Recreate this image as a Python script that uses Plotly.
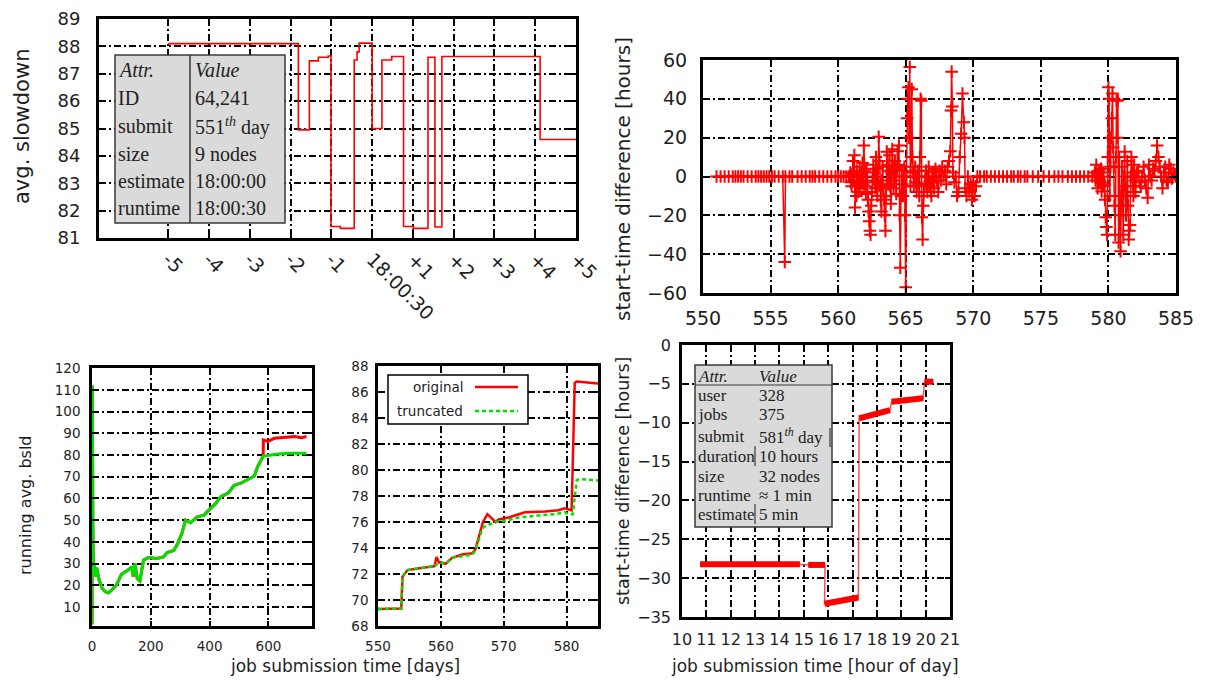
import plotly.graph_objects as go

# Page is shown with the browser's default 8px body margin, so the figure is
# sized to fit inside the 1208x680 window and laid out in window pixels.
WIN_W, WIN_H, OFF = 1208, 680, 8
W, H = WIN_W - OFF, WIN_H - OFF

# ---------------- data ----------------
# Panel 1: avg. slowdown around job 64,241 (step line)
p1_x = [-5, -1.81, -1.54, -1.32, -1.08, -1.01, -0.78, -0.44, -0.37, -0.32, 0.0,
        0.24, 0.48, 0.77, 1.01, 1.37, 1.54, 1.71, 4.12, 5.0]
p1_y = [88.1, 84.95, 87.47, 87.6, 87.65, 81.42, 81.35, 87.5, 87.8, 88.12, 85.0,
        87.5, 87.63, 81.42, 81.35, 87.6, 81.4, 87.63, 84.6, 84.6]
p1_tickvals = [-5, -4, -3, -2, -1, 0, 1, 2, 3, 4, 5]
p1_ticktext = ["-5", "-4", "-3", "-2", "-1", "18:00:30", "+1", "+2", "+3", "+4", "+5"]
p1_table_attr = ["<i>Attr.</i>", "ID", "submit", "size", "estimate", "runtime"]
p1_table_val = ["<i>Value</i>", "64,241", "551<sup><i>th</i></sup> day", "9 nodes",
                "18:00:00", "18:00:30"]

# Panel 2: start-time difference [hours] vs day  (x = day, y = hours)
p2_x = [551.0, 551.3, 551.6, 551.9, 552.2, 552.4, 552.6, 552.8, 553.0, 553.3, 553.6,
        553.9, 554.1, 554.3, 554.5, 554.7, 554.9, 555.1, 555.3, 555.6, 555.9, 556.05,
        556.1, 556.4, 556.6, 557.0, 557.3, 557.6, 557.9, 558.1, 558.3, 558.6, 558.9,
        559.2, 559.5, 559.8, 560.0, 560.2, 560.4, 560.6, 560.8,
        560.85, 560.9, 560.95, 561.0, 561.05, 561.1, 561.15, 561.2, 561.25, 561.3,
        561.35, 561.4, 561.45, 561.5, 561.55, 561.6, 561.65, 561.7, 561.75, 561.8,
        561.85, 561.9, 561.95, 562.0, 562.05, 562.1, 562.15, 562.2, 562.25, 562.3,
        562.35, 562.4, 562.45, 562.5, 562.55, 562.6, 562.65, 562.7, 562.75, 562.8,
        562.85, 562.9, 562.95, 563.0, 563.05, 563.1, 563.15, 563.2, 563.25, 563.3,
        563.35, 563.4, 563.45, 563.5, 563.55, 563.6, 563.65, 563.7, 563.75, 563.8,
        563.85, 563.9, 563.95, 564.0, 564.05, 564.1, 564.15, 564.2, 564.25, 564.3,
        564.35, 564.4, 564.45, 564.5, 564.55, 564.6, 564.65, 564.7, 564.75, 564.8,
        564.85, 564.9, 564.95, 565.0, 565.05, 565.1, 565.15, 565.2, 565.25, 565.3,
        565.35, 565.4, 565.45, 565.5, 565.55, 565.6, 565.65, 565.7, 565.75, 565.8,
        565.85, 565.9, 565.95, 566.0, 566.05, 566.1, 566.15, 566.2, 566.25, 566.3,
        566.35, 566.4, 566.45, 566.5, 566.55, 566.6, 566.65, 566.7, 566.75, 566.8,
        566.85, 566.9, 566.95, 567.0, 567.05, 567.1, 567.15, 567.2, 567.3, 567.4,
        567.5, 567.6, 567.7, 567.8, 567.9, 568.0, 568.1, 568.2, 568.3, 568.35,
        568.4, 568.45, 568.5, 568.6, 568.7, 568.8, 568.9, 569.0, 569.1, 569.2,
        569.3, 569.35, 569.4, 569.5, 569.6, 569.7, 569.8, 569.9, 570.0, 570.1,
        570.2, 570.3,
        570.5, 570.8, 571.0, 571.3, 571.6, 571.9, 572.2, 572.5, 572.8, 573.0, 573.3,
        573.5, 573.8, 574.0, 574.4, 574.8, 575.2, 575.6, 576.0, 576.3, 576.6, 577.0,
        577.3, 577.6, 577.9, 578.2, 578.5, 578.8,
        579.0, 579.05, 579.1, 579.15, 579.2, 579.25, 579.3, 579.35, 579.4, 579.45,
        579.5, 579.55, 579.6, 579.65, 579.7, 579.75, 579.8, 579.85, 579.9, 579.95,
        580.0, 580.05, 580.1, 580.15, 580.2, 580.25, 580.3, 580.35, 580.4, 580.45,
        580.5, 580.55, 580.6, 580.65, 580.7, 580.75, 580.8, 580.85, 580.9, 580.95,
        581.0, 581.05, 581.1, 581.15, 581.2, 581.25, 581.3, 581.35, 581.4, 581.45,
        581.5, 581.55, 581.6, 581.65, 581.7, 581.75, 581.8, 581.85, 581.9, 581.95,
        582.0, 582.1, 582.2, 582.3, 582.4, 582.5, 582.6, 582.7, 582.8, 582.9,
        583.0, 583.1, 583.2, 583.3, 583.4, 583.5, 583.6, 583.7, 583.8, 583.9,
        584.0, 584.1, 584.2, 584.3, 584.4, 584.5, 584.6, 584.7, 584.8, 584.9, 585.0]
p2_y = [0, 0, 0, 0, 0, 0, 0, 0, 0, 0, 0,
        0, 0, 0, 0, 0, 0, 0, 0, 0, 0, -44,
        0, 0, 0, 0, 0, 0, 0, 0, 0, 0, 0,
        0, 0, 0, 0, 0, 0, 0, 0,
        0, 2, -3, -5, 1, 8, -2, 11, -16, -5,
        -10, 3, -3, -8, 0, 5, -6, -3, 2, 7,
        -4, 16, 3, -5, -9, 4, -2, -12, -18, -23,
        -28, -30, -15, -8, 0, 6, 2, -3, -6, 10,
        4, -10, -4, 20.5, 8, -5, -12, -18, -2, 5,
        -6, -12, -20, -28, -10, 12.8, 6, -4, 3, 11,
        -5, -14, 2, 14, 5, -6, -2, 8, 0, -9,
        4, 13, 6, 16, -20, -47, -10, 3, -4, -10,
        0, 5, -20, -57, 0, 30, 40, 46, 20, 56.4,
        -5, 10, 45, 10, 2, -5, 3, 5, -3, -8,
        0, 3, -4, -10, 10, 40, 39, -21, -32.5, -15,
        -8, -5, 0, 3, -4, -8, 0, 5, -5, -3,
        -8, -10, -2, 2, -3, -6, 0, 4, -2, -8,
        3, -2, 5, 0, 3, -4, 5, 8, 13, 34,
        54, 36, 2, -3, 0, -10, -8, 10, 22, 42.7,
        28, 20, -6, -10, 0, -8, -4, -12, -3, -10,
        -5, 0,
        0, 0, 0, 0, 0, 0, 0, 0, 0, 0, 0,
        0, 0, 0, 0, 0, 0, 0, 0, 0, 0, 0,
        0, 0, 0, 0, 0, 0,
        2, -2, 6, 0, -6, 1, 3, -2, -3, 4,
        -7.7, 0, 2, -5, -4, -12, -21, -26, -30, 10,
        46, 40, -10, 5, 20, 30, 42.7, 15, 5, -15,
        -30, 10, 39, 20, 39.3, -34, 10, -20, -38.5, -10,
        5, -15, -30, 0, 12.8, -5, -20, -8, 8, -15,
        -32.5, -28, -25, 0, 10, 2, -5, -10, 6, -2,
        -8, 2, 3, -3, -5, 0, 5, -2, -6, -11,
        6, 0, -2, 4, 3, 8, 16, 10, 5, 0,
        -6, 2, 5, -2, -3, 6, 4, -1, 2, 1, 0]

# Panel 3: running avg. bsld vs job submission time [days]
p3_orig_x = [0, 1, 3, 5, 8, 12, 16, 25, 35, 45, 55, 65, 83, 100, 123, 135, 140, 146,
             154, 163, 175, 192, 220, 243, 255, 278, 289, 306, 318, 335, 358, 381, 403,
             421, 438, 461, 472, 483, 506, 529, 552, 563, 575, 582, 582.5, 598, 620,
             655, 689, 712, 729]
p3_orig_y = [2, 112, 45, 25, 30, 24, 28, 22, 18.5, 17, 16.5, 17.5, 20, 25, 27, 28.5, 24,
             30, 23, 22, 31.5, 32.8, 32.3, 33, 35, 36, 38.5, 44, 50, 48.8, 51.5, 52.3,
             55.4, 57.7, 60.8, 62.3, 64, 66, 67, 68.5, 70.3, 74.6, 77.7, 79.5, 86.9,
             86.3, 87.7, 88, 88.5, 88, 88.5]
p3_trunc_x = [0, 1, 3, 5, 8, 12, 16, 25, 35, 45, 55, 65, 83, 100, 123, 135, 140, 146,
              154, 163, 175, 192, 220, 243, 255, 278, 289, 306, 318, 335, 358, 381, 403,
              421, 438, 461, 472, 483, 506, 529, 552, 563, 575, 582, 598, 632, 666, 729]
p3_trunc_y = [2, 112, 45, 25, 30, 24, 28, 22, 18.5, 17, 16.5, 17.5, 20, 25, 27, 28.5, 24,
              30, 23, 22, 31.5, 32.8, 32.3, 33, 35, 36, 38.5, 44, 50, 48.8, 51.5, 52.3,
              55.4, 57.7, 60.8, 62.3, 64, 66, 67, 68.5, 70.3, 74.6, 77.7, 79.5, 79.8,
              80.5, 80.8, 80.8]

# Panel 4: zoom 550-585 days
p4_orig_x = [550, 553.7, 553.9, 554.7, 556.6, 559.0, 559.3, 559.7, 560.8, 561.8, 563.4,
             565.0, 565.5, 566.1, 566.3, 566.7, 567.4, 568.7, 569.2, 570.8, 572.4, 573.4,
             576.6, 578.7, 579.7, 580.8, 581.3, 581.6, 585]
p4_orig_y = [69.3, 69.35, 71.8, 72.3, 72.45, 72.6, 73.3, 72.9, 72.8, 73.25, 73.5,
             73.6, 73.9, 74.9, 75.2, 76.0, 76.6, 76.0, 76.2, 76.35, 76.6, 76.75,
             76.8, 76.9, 77.05, 76.9, 86.7, 86.8, 86.65]
p4_trunc_x = [550, 553.7, 553.9, 554.7, 556.6, 559.0, 559.7, 560.8, 561.8, 563.4,
              565.0, 565.5, 566.1, 566.6, 567.1, 568.7, 570.3, 572.4, 575.5, 578.2,
              579.7, 580.3, 581.0, 581.6, 582.0, 585]
p4_trunc_y = [69.3, 69.35, 71.8, 72.3, 72.45, 72.6, 72.9, 72.8, 73.25, 73.4,
              73.5, 73.8, 74.8, 75.5, 75.7, 76.0, 76.1, 76.35, 76.5, 76.6,
              76.75, 76.6, 76.6, 79.2, 79.3, 79.2]
p4_legend = ["original", "truncated"]

# Panel 5: start-time difference [hours] vs hour of day (user 328)
p5_x = [10.74, 14.84, 15.18, 15.87, 15.85, 17.24, 17.27, 18.54, 18.6, 19.9, 19.95, 20.32]
p5_y = [-28.2, -28.2, -28.3, -28.3, -33.3, -32.5, -9.44, -8.37, -7.3, -6.86, -4.72, -4.72]
p5_segments = [(0, 1), (2, 3), (4, 5), (6, 7), (8, 9), (10, 11)]
p5_table_attr = ["<i>Attr.</i>", "user", "jobs", "submit", "duration", "size",
                 "runtime", "estimate"]
p5_table_val = ["<i>Value</i>", "328", "375", "581<sup><i>th</i></sup> day", "10 hours",
                "32 nodes", "≈ 1 min", "5 min"]


# ---------------- helpers (window pixel -> paper fraction) ----------------
def fx(px):
    return (px - OFF) / W


def fy(py):
    return 1 - (py - OFF) / H


RED = "#ff0000"
GREEN = "#00e000"
SANS = "DejaVu Sans"
SERIF = "Liberation Serif"
TXT = "#1e1e1e"
GRIDDASH = "7px,3px,2px,3px"


def axis(domain, rng, anchor, size, lw=3, ticklen=7, standoff=4, **kw):
    d = dict(domain=domain, range=rng, anchor=anchor, showline=True, linecolor="black",
             linewidth=lw, mirror="ticks", ticks="inside", ticklen=ticklen,
             tickwidth=2, tickcolor="black", showgrid=True, gridcolor="black",
             gridwidth=1.6, griddash=GRIDDASH, zeroline=False, automargin=False,
             ticklabeloverflow="allow",
             tickfont=dict(family=SANS, size=size, color=TXT),
             ticklabelstandoff=standoff)
    d.update(kw)
    return d


fig = go.Figure()

# Panel 1
fig.add_trace(go.Scatter(x=p1_x, y=p1_y, mode="lines", xaxis="x", yaxis="y",
                         line=dict(shape="hv", color=RED, width=1.6)))
# Panel 2
fig.add_trace(go.Scatter(x=p2_x, y=p2_y, mode="lines+markers", xaxis="x2", yaxis="y2",
                         line=dict(color=RED, width=1.5),
                         marker=dict(symbol="cross-thin", size=9,
                                     line=dict(color=RED, width=2))))
# Panel 3
fig.add_trace(go.Scatter(x=p3_orig_x, y=p3_orig_y, mode="lines", xaxis="x3", yaxis="y3",
                         line=dict(color=RED, width=3)))
fig.add_trace(go.Scatter(x=p3_trunc_x, y=p3_trunc_y, mode="lines", xaxis="x3", yaxis="y3",
                         line=dict(color=GREEN, width=3)))
# Panel 4
fig.add_trace(go.Scatter(x=p4_orig_x, y=p4_orig_y, mode="lines", xaxis="x4", yaxis="y4",
                         line=dict(color=RED, width=2.5)))
fig.add_trace(go.Scatter(x=p4_trunc_x, y=p4_trunc_y, mode="lines", xaxis="x4", yaxis="y4",
                         line=dict(color=GREEN, width=2.5, dash="4px,3px")))
# Panel 5: thin connecting line + thick segments
fig.add_trace(go.Scatter(x=p5_x, y=p5_y, mode="lines", xaxis="x5", yaxis="y5",
                         line=dict(color="rgba(255,0,0,0.7)", width=1.5)))
seg_x, seg_y = [], []
for a, b in p5_segments:
    seg_x += [p5_x[a], p5_x[b], None]
    seg_y += [p5_y[a], p5_y[b], None]
fig.add_trace(go.Scatter(x=seg_x, y=seg_y, mode="lines", xaxis="x5", yaxis="y5",
                         line=dict(color=RED, width=6)))

shapes = []
annotations = []

# Panel 1 table
shapes.append(dict(type="rect", xref="paper", yref="paper", x0=fx(115), x1=fx(285),
                   y0=fy(223), y1=fy(55), fillcolor="#dadada",
                   line=dict(color="#3a3a3a", width=1.5), layer="above"))
shapes.append(dict(type="line", xref="paper", yref="paper", x0=fx(190), x1=fx(190),
                   y0=fy(223), y1=fy(55), line=dict(color="#3a3a3a", width=1.5)))
p1_rows = [70, 98, 126, 154, 181, 208]
for a, v, r in zip(p1_table_attr, p1_table_val, p1_rows):
    annotations.append(dict(text=a, x=fx(116), y=fy(r), xref="paper", yref="paper",
                            xanchor="left", yanchor="middle", showarrow=False,
                            font=dict(family=SERIF, size=20, color="#222")))
    annotations.append(dict(text=v, x=fx(193), y=fy(r), xref="paper", yref="paper",
                            xanchor="left", yanchor="middle", showarrow=False,
                            font=dict(family=SERIF, size=20, color="#222")))

# Panel 5 table
shapes.append(dict(type="rect", xref="paper", yref="paper", x0=fx(695), x1=fx(832),
                   y0=fy(527), y1=fy(365), fillcolor="#dadada",
                   line=dict(color="#3a3a3a", width=1.5), layer="above"))
shapes.append(dict(type="line", xref="paper", yref="paper", x0=fx(695), x1=fx(832),
                   y0=fy(385), y1=fy(385), line=dict(color="#3a3a3a", width=1.2)))
for y0, y1 in [(446, 466), (504, 524)]:
    shapes.append(dict(type="line", xref="paper", yref="paper", x0=fx(755), x1=fx(755),
                       y0=fy(y1), y1=fy(y0), line=dict(color="#3a3a3a", width=1.2)))
shapes.append(dict(type="line", xref="paper", yref="paper", x0=fx(830), x1=fx(830),
                   y0=fy(447), y1=fy(428), line=dict(color="#3a3a3a", width=1.2)))
p5_rows = [376, 396, 414, 436, 456, 476, 495, 514]
for a, v, r in zip(p5_table_attr, p5_table_val, p5_rows):
    annotations.append(dict(text=a, x=fx(696), y=fy(r), xref="paper", yref="paper",
                            xanchor="left", yanchor="middle", showarrow=False,
                            font=dict(family=SERIF, size=17, color="#222")))
    annotations.append(dict(text=v, x=fx(757), y=fy(r), xref="paper", yref="paper",
                            xanchor="left", yanchor="middle", showarrow=False,
                            font=dict(family=SERIF, size=17, color="#222")))

# Panel 4 legend
shapes.append(dict(type="rect", xref="paper", yref="paper", x0=fx(388), x1=fx(528),
                   y0=fy(424), y1=fy(375), fillcolor="white",
                   line=dict(color="black", width=1.5), layer="above"))
shapes.append(dict(type="line", xref="paper", yref="paper", x0=fx(475), x1=fx(518),
                   y0=fy(387), y1=fy(387), line=dict(color=RED, width=2.5)))
shapes.append(dict(type="line", xref="paper", yref="paper", x0=fx(475), x1=fx(518),
                   y0=fy(411), y1=fy(411), line=dict(color=GREEN, width=2.5, dash="4px,3px")))
for t, r in zip(p4_legend, [387, 411]):
    annotations.append(dict(text=t, x=fx(465), y=fy(r), xref="paper", yref="paper",
                            xanchor="right", yanchor="middle", showarrow=False,
                            font=dict(family=SANS, size=13.5, color=TXT)))

# Axis titles
titles = [
    ("avg. slowdown", 22, 127, -90, 21),
    ("start-time difference [hours]", 623, 179, -90, 20),
    ("running avg. bsld", 25, 505, -90, 16),
    ("job submission time [days]", 345, 666, 0, 17),
    ("start-time difference [hours]", 623, 481, -90, 17.5),
    ("job submission time [hour of day]", 815, 666, 0, 17),
]
for t, x, y, ang, s in titles:
    annotations.append(dict(text=t, x=fx(x), y=fy(y), xref="paper", yref="paper",
                            xanchor="center", yanchor="middle", showarrow=False,
                            textangle=ang, font=dict(family=SANS, size=s, color=TXT)))

fig.update_layout(
    width=W, height=H, margin=dict(l=0, r=0, t=0, b=0, autoexpand=False),
    paper_bgcolor="white", plot_bgcolor="white", showlegend=False,
    xaxis=axis([fx(99), fx(576)], [-6.7, 5], "y", 19, tickmode="array",
               tickvals=p1_tickvals, ticktext=p1_ticktext, tickangle=45, standoff=0),
    yaxis=axis([fy(238), fy(19)], [81, 89], "x", 18, dtick=1, tick0=81, standoff=12),
    xaxis2=axis([fx(703), fx(1176)], [550, 585], "y2", 19, dtick=5, tick0=550, standoff=6),
    yaxis2=axis([fy(293), fy(60)], [-60, 60], "x2", 19, dtick=20, tick0=-60, standoff=9),
    xaxis3=axis([fx(92), fx(312)], [0, 748], "y3", 13.5, lw=2.5, ticklen=5,
                tickmode="array", tickvals=[0, 200, 400, 600], standoff=6),
    yaxis3=axis([fy(626), fy(368)], [1.2, 120.1], "x3", 13.5, lw=2.5, ticklen=5,
                tickmode="array", tickvals=list(range(10, 121, 10)), standoff=6),
    xaxis4=axis([fx(378), fx(598)], [550, 585], "y4", 13.5, lw=2.5, ticklen=5,
                tickmode="array", tickvals=[550, 560, 570, 580], standoff=6),
    yaxis4=axis([fy(626), fy(366)], [68, 88], "x4", 13.5, lw=2.5, ticklen=5,
                dtick=2, tick0=68, standoff=4),
    xaxis5=axis([fx(682), fx(950)], [10, 21], "y5", 16, lw=2.5, ticklen=5,
                dtick=1, tick0=10, standoff=6),
    yaxis5=axis([fy(617), fy(345)], [-35, 0], "x5", 16, lw=2.5, ticklen=5,
                dtick=5, tick0=-35, standoff=5),
    shapes=shapes, annotations=annotations,
)

fig.write_html("out.html")
